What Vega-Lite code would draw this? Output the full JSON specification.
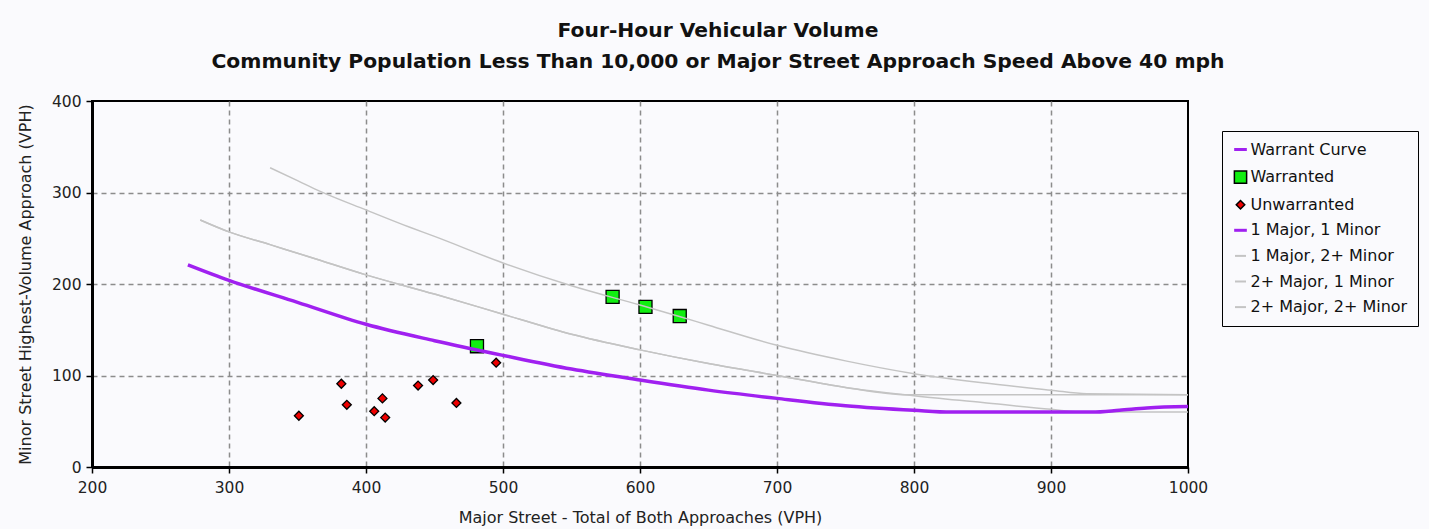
{
  "$schema": "https://vega.github.io/schema/vega-lite/v6.json",
  "autosize": {"type": "none"},
  "padding": {"left": 92, "top": 101, "right": 241, "bottom": 62},
  "width": 1096,
  "height": 366,
  "background": "#FAFAFD",
  "title": {
    "text": ["Four-Hour Vehicular Volume", "Community Population Less Than 10,000 or Major Street Approach Speed Above 40 mph"],
    "anchor": "middle",
    "frame": "bounds",
    "font": "DejaVu Sans",
    "fontSize": 20.3,
    "fontWeight": "bold",
    "color": "#111111",
    "lineHeight": 31,
    "offset": 22
  },
  "datasets": {
    "curves": [
      {"series": "1 Major, 1 Minor", "major": 270, "minor": 221},
      {"series": "1 Major, 1 Minor", "major": 300, "minor": 204},
      {"series": "1 Major, 1 Minor", "major": 350, "minor": 180},
      {"series": "1 Major, 1 Minor", "major": 400, "minor": 156},
      {"series": "1 Major, 1 Minor", "major": 450, "minor": 138},
      {"series": "1 Major, 1 Minor", "major": 500, "minor": 122},
      {"series": "1 Major, 1 Minor", "major": 550, "minor": 107},
      {"series": "1 Major, 1 Minor", "major": 600, "minor": 95},
      {"series": "1 Major, 1 Minor", "major": 650, "minor": 84},
      {"series": "1 Major, 1 Minor", "major": 700, "minor": 75},
      {"series": "1 Major, 1 Minor", "major": 750, "minor": 67},
      {"series": "1 Major, 1 Minor", "major": 800, "minor": 62},
      {"series": "1 Major, 1 Minor", "major": 827, "minor": 60},
      {"series": "1 Major, 1 Minor", "major": 930, "minor": 60},
      {"series": "1 Major, 1 Minor", "major": 950, "minor": 62},
      {"series": "1 Major, 1 Minor", "major": 970, "minor": 64.5},
      {"series": "1 Major, 1 Minor", "major": 1000, "minor": 66},
      {"series": "1 Major, 2+ Minor", "major": 279, "minor": 270},
      {"series": "1 Major, 2+ Minor", "major": 300, "minor": 257},
      {"series": "1 Major, 2+ Minor", "major": 330, "minor": 243},
      {"series": "1 Major, 2+ Minor", "major": 360, "minor": 229},
      {"series": "1 Major, 2+ Minor", "major": 400, "minor": 210},
      {"series": "1 Major, 2+ Minor", "major": 450, "minor": 189},
      {"series": "1 Major, 2+ Minor", "major": 500, "minor": 167},
      {"series": "1 Major, 2+ Minor", "major": 550, "minor": 145},
      {"series": "1 Major, 2+ Minor", "major": 600, "minor": 128},
      {"series": "1 Major, 2+ Minor", "major": 650, "minor": 113},
      {"series": "1 Major, 2+ Minor", "major": 700, "minor": 100},
      {"series": "1 Major, 2+ Minor", "major": 750, "minor": 87},
      {"series": "1 Major, 2+ Minor", "major": 795, "minor": 79},
      {"series": "1 Major, 2+ Minor", "major": 850, "minor": 79},
      {"series": "1 Major, 2+ Minor", "major": 1000, "minor": 79},
      {"series": "2+ Major, 1 Minor", "major": 279, "minor": 270},
      {"series": "2+ Major, 1 Minor", "major": 300, "minor": 257},
      {"series": "2+ Major, 1 Minor", "major": 330, "minor": 243},
      {"series": "2+ Major, 1 Minor", "major": 360, "minor": 229},
      {"series": "2+ Major, 1 Minor", "major": 400, "minor": 210},
      {"series": "2+ Major, 1 Minor", "major": 450, "minor": 189},
      {"series": "2+ Major, 1 Minor", "major": 500, "minor": 167},
      {"series": "2+ Major, 1 Minor", "major": 550, "minor": 145},
      {"series": "2+ Major, 1 Minor", "major": 600, "minor": 128},
      {"series": "2+ Major, 1 Minor", "major": 650, "minor": 113},
      {"series": "2+ Major, 1 Minor", "major": 700, "minor": 100},
      {"series": "2+ Major, 1 Minor", "major": 750, "minor": 87},
      {"series": "2+ Major, 1 Minor", "major": 800, "minor": 78},
      {"series": "2+ Major, 1 Minor", "major": 850, "minor": 70.5},
      {"series": "2+ Major, 1 Minor", "major": 900, "minor": 63},
      {"series": "2+ Major, 1 Minor", "major": 925, "minor": 60},
      {"series": "2+ Major, 1 Minor", "major": 1000, "minor": 60},
      {"series": "2+ Major, 2+ Minor", "major": 330, "minor": 327},
      {"series": "2+ Major, 2+ Minor", "major": 350, "minor": 313},
      {"series": "2+ Major, 2+ Minor", "major": 367, "minor": 301},
      {"series": "2+ Major, 2+ Minor", "major": 400, "minor": 281},
      {"series": "2+ Major, 2+ Minor", "major": 432, "minor": 262},
      {"series": "2+ Major, 2+ Minor", "major": 450, "minor": 252},
      {"series": "2+ Major, 2+ Minor", "major": 500, "minor": 223},
      {"series": "2+ Major, 2+ Minor", "major": 550, "minor": 198},
      {"series": "2+ Major, 2+ Minor", "major": 600, "minor": 177},
      {"series": "2+ Major, 2+ Minor", "major": 630, "minor": 164},
      {"series": "2+ Major, 2+ Minor", "major": 650, "minor": 155},
      {"series": "2+ Major, 2+ Minor", "major": 700, "minor": 133},
      {"series": "2+ Major, 2+ Minor", "major": 750, "minor": 116},
      {"series": "2+ Major, 2+ Minor", "major": 800, "minor": 102},
      {"series": "2+ Major, 2+ Minor", "major": 850, "minor": 92},
      {"series": "2+ Major, 2+ Minor", "major": 900, "minor": 84},
      {"series": "2+ Major, 2+ Minor", "major": 926, "minor": 80},
      {"series": "2+ Major, 2+ Minor", "major": 1000, "minor": 79}
    ],
    "obs": [
      {"series": "Warranted", "major": 481, "minor": 132},
      {"series": "Warranted", "major": 580, "minor": 186},
      {"series": "Warranted", "major": 604, "minor": 175},
      {"series": "Warranted", "major": 629, "minor": 165},
      {"series": "Unwarranted", "major": 351, "minor": 56},
      {"series": "Unwarranted", "major": 382, "minor": 91},
      {"series": "Unwarranted", "major": 386, "minor": 68},
      {"series": "Unwarranted", "major": 406, "minor": 61},
      {"series": "Unwarranted", "major": 412, "minor": 75},
      {"series": "Unwarranted", "major": 414, "minor": 54},
      {"series": "Unwarranted", "major": 438, "minor": 89},
      {"series": "Unwarranted", "major": 449, "minor": 95},
      {"series": "Unwarranted", "major": 466, "minor": 70},
      {"series": "Unwarranted", "major": 495, "minor": 114}
    ]
  },
  "encoding": {
    "x": {
      "field": "major", "type": "quantitative",
      "scale": {"domain": [200, 1000], "nice": false, "zero": false},
      "axis": {
        "title": "Major Street - Total of Both Approaches (VPH)",
        "values": [200, 300, 400, 500, 600, 700, 800, 900, 1000],
        "format": "d",
        "labelPadding": 7,
        "titlePadding": 14,
        "gridOpacity": {"condition": {"test": "datum.value === 200 || datum.value === 1000", "value": 0}, "value": 1}
      }
    },
    "y": {
      "field": "minor", "type": "quantitative",
      "scale": {"domain": [0, 400], "nice": false},
      "axis": {
        "title": "Minor Street Highest-Volume Approach (VPH)",
        "values": [0, 100, 200, 300, 400],
        "format": "d",
        "labelPadding": 5,
        "titlePadding": 18,
        "gridOpacity": {"condition": {"test": "datum.value === 0 || datum.value === 400", "value": 0}, "value": 1}
      }
    }
  },
  "layer": [
    {
      "data": {"name": "obs"},
      "mark": {"type": "point", "filled": true, "opacity": 1, "stroke": "#000000", "strokeWidth": 1.3},
      "encoding": {
        "fill": {
          "field": "series", "type": "nominal",
          "scale": {
            "domain": ["Warrant Curve", "Warranted", "Unwarranted", "1 Major, 1 Minor", "1 Major, 2+ Minor", "2+ Major, 1 Minor", "2+ Major, 2+ Minor"],
            "range": ["transparent", "#11EE11", "#EE0000", "transparent", "transparent", "transparent", "transparent"]
          },
          "legend": {
            "title": null, "orient": "none", "legendX": 1130, "legendY": 30,
            "padding": 10.5, "rowPadding": 9.6,
            "strokeColor": "#000000", "fillColor": "#FAFAFD",
            "labelFont": "DejaVu Sans", "labelFontSize": 16, "labelColor": "#111111",
            "labelOffset": 2, "labelLimit": 300, "symbolSize": 150,
            "encoding": {
              "symbols": {
                "shape": {"value": {"expr": "datum.value === 'Warranted' ? 'square' : datum.value === 'Unwarranted' ? 'diamond' : 'stroke'"}},
                "size": {"value": {"expr": "datum.value === 'Warranted' ? 150 : datum.value === 'Unwarranted' ? 72 : (datum.value === 'Warrant Curve' || datum.value === '1 Major, 1 Minor') ? 160 : 120"}},
                "strokeWidth": {"value": {"expr": "(datum.value === 'Warranted' || datum.value === 'Unwarranted') ? 1.5 : (datum.value === 'Warrant Curve' || datum.value === '1 Major, 1 Minor') ? 3 : 2"}},
                "opacity": {"value": 1}
              }
            }
          }
        },
        "shape": {
          "field": "series", "type": "nominal",
          "scale": {
            "domain": ["Warrant Curve", "Warranted", "Unwarranted", "1 Major, 1 Minor", "1 Major, 2+ Minor", "2+ Major, 1 Minor", "2+ Major, 2+ Minor"],
            "range": ["stroke", "square", "diamond", "stroke", "stroke", "stroke", "stroke"]
          },
          "legend": {
            "title": null, "orient": "none", "legendX": 1130, "legendY": 30,
            "padding": 10.5, "rowPadding": 9.6,
            "strokeColor": "#000000", "fillColor": "#FAFAFD",
            "labelFont": "DejaVu Sans", "labelFontSize": 16, "labelColor": "#111111",
            "labelOffset": 2, "labelLimit": 300, "symbolSize": 150,
            "encoding": {
              "symbols": {
                "shape": {"value": {"expr": "datum.value === 'Warranted' ? 'square' : datum.value === 'Unwarranted' ? 'diamond' : 'stroke'"}},
                "size": {"value": {"expr": "datum.value === 'Warranted' ? 150 : datum.value === 'Unwarranted' ? 72 : (datum.value === 'Warrant Curve' || datum.value === '1 Major, 1 Minor') ? 160 : 120"}},
                "strokeWidth": {"value": {"expr": "(datum.value === 'Warranted' || datum.value === 'Unwarranted') ? 1.5 : (datum.value === 'Warrant Curve' || datum.value === '1 Major, 1 Minor') ? 3 : 2"}},
                "opacity": {"value": 1}
              }
            }
          }
        },
        "size": {
          "field": "series", "type": "nominal",
          "scale": {"domain": ["Warranted", "Unwarranted"], "range": [170, 80]},
          "legend": null
        }
      }
    },
    {
      "data": {"name": "curves"},
      "transform": [{"filter": "datum.series !== '1 Major, 1 Minor'"}],
      "mark": {"type": "line", "strokeWidth": 1.5, "interpolate": "monotone"},
      "encoding": {
        "stroke": {
          "field": "series", "type": "nominal",
          "scale": {
            "domain": ["Warrant Curve", "Warranted", "Unwarranted", "1 Major, 1 Minor", "1 Major, 2+ Minor", "2+ Major, 1 Minor", "2+ Major, 2+ Minor"],
            "range": ["#A020F0", "#000000", "#000000", "#A020F0", "#C4C4C4", "#C4C4C4", "#C4C4C4"]
          },
          "legend": {
            "title": null, "orient": "none", "legendX": 1130, "legendY": 30,
            "padding": 10.5, "rowPadding": 9.6,
            "strokeColor": "#000000", "fillColor": "#FAFAFD",
            "labelFont": "DejaVu Sans", "labelFontSize": 16, "labelColor": "#111111",
            "labelOffset": 2, "labelLimit": 300, "symbolSize": 150,
            "encoding": {
              "symbols": {
                "shape": {"value": {"expr": "datum.value === 'Warranted' ? 'square' : datum.value === 'Unwarranted' ? 'diamond' : 'stroke'"}},
                "size": {"value": {"expr": "datum.value === 'Warranted' ? 150 : datum.value === 'Unwarranted' ? 72 : (datum.value === 'Warrant Curve' || datum.value === '1 Major, 1 Minor') ? 160 : 120"}},
                "strokeWidth": {"value": {"expr": "(datum.value === 'Warranted' || datum.value === 'Unwarranted') ? 1.5 : (datum.value === 'Warrant Curve' || datum.value === '1 Major, 1 Minor') ? 3 : 2"}},
                "opacity": {"value": 1}
              }
            }
          }
        }
      }
    },
    {
      "data": {"name": "curves"},
      "transform": [{"filter": "datum.series === '1 Major, 1 Minor'"}],
      "mark": {"type": "line", "strokeWidth": 3.5, "interpolate": "monotone"},
      "encoding": {
        "stroke": {
          "field": "series", "type": "nominal",
          "scale": {
            "domain": ["Warrant Curve", "Warranted", "Unwarranted", "1 Major, 1 Minor", "1 Major, 2+ Minor", "2+ Major, 1 Minor", "2+ Major, 2+ Minor"],
            "range": ["#A020F0", "#000000", "#000000", "#A020F0", "#C4C4C4", "#C4C4C4", "#C4C4C4"]
          },
          "legend": null
        }
      }
    }
  ],
  "config": {
    "view": {"stroke": "#000000", "strokeWidth": 2, "fill": "#FAFAFD"},
    "axis": {
      "grid": true,
      "gridDash": [5, 4],
      "gridColor": "#8C8C8C",
      "gridWidth": 1.5,
      "domainColor": "#000000",
      "domainWidth": 3,
      "tickColor": "#000000",
      "tickSize": 6,
      "tickWidth": 1.5,
      "labelFont": "DejaVu Sans",
      "labelFontSize": 15.5,
      "labelColor": "#222222",
      "labelFlush": false,
      "titleFont": "DejaVu Sans",
      "titleFontSize": 16,
      "titleFontWeight": "normal",
      "titleColor": "#222222"
    }
  }
}
